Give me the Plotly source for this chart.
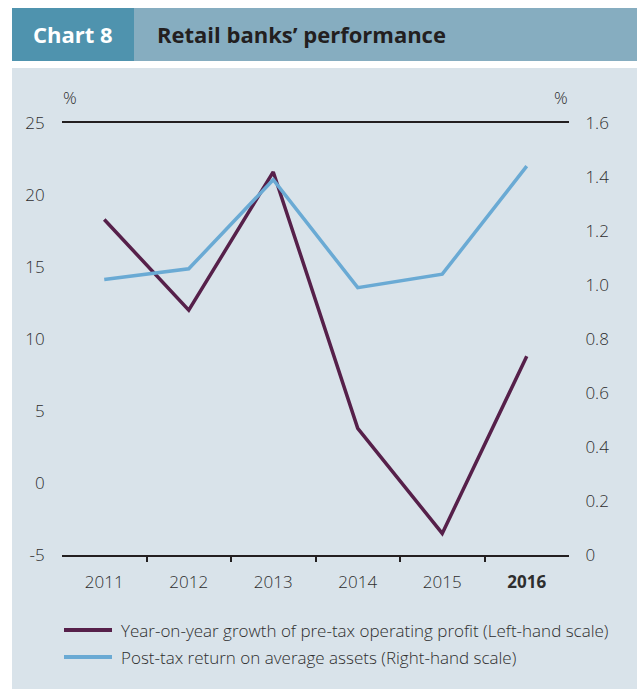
import plotly.graph_objects as go

years = ["2011", "2012", "2013", "2014", "2015", "2016"]
year_labels = ["2011", "2012", "2013", "2014", "2015", "<b>2016</b>"]
profit_growth = [18.3, 12.0, 21.6, 3.8, -3.5, 8.8]
roa = [1.02, 1.06, 1.39, 0.99, 1.04, 1.44]
series_names = ["Year-on-year growth of pre-tax operating profit (Left-hand scale)",
                "Post-tax return on average assets (Right-hand scale)"]
series_colors = ["#56204a", "#6aaad4"]

left_ticks = [-5, 0, 5, 10, 15, 20, 25]
left_text = ["-5", "0", "5", "10", "15", "20", "25"]
right_ticks = [0, 0.2, 0.4, 0.6, 0.8, 1.0, 1.2, 1.4, 1.6]
right_text = ["0", "0.2", "0.4", "0.6", "0.8", "1.0", "1.2", "1.4", "1.6"]

W, H = 637, 689
L, R, T, B = 62, 569, 123, 555
FONT = "Open Sans"
TXT = "#2e2e2e"
TICKFONT = dict(family=FONT, size=17, color=TXT, weight=300)


def px(x):
    return (x - L) / (R - L)


def py(y):
    return (B - y) / (B - T)


xi = list(range(len(years)))

fig = go.Figure()
fig.add_trace(go.Scatter(
    x=xi, y=profit_growth, mode="lines", name=series_names[0],
    line=dict(color=series_colors[0], width=3.5), yaxis="y", xaxis="x", showlegend=False))
fig.add_trace(go.Scatter(
    x=xi, y=roa, mode="lines", name=series_names[1],
    line=dict(color=series_colors[1], width=3.5), yaxis="y2", xaxis="x", showlegend=False))

shapes = [
    dict(type="rect", xref="paper", yref="paper", x0=px(12), x1=px(637), y0=py(68), y1=py(689),
         fillcolor="#d9e3ea", line=dict(width=0), layer="below"),
    dict(type="rect", xref="paper", yref="paper", x0=px(12), x1=px(134), y0=py(8), y1=py(61),
         fillcolor="#4f93ae", line=dict(width=0), layer="below"),
    dict(type="rect", xref="paper", yref="paper", x0=px(134), x1=px(637), y0=py(8), y1=py(61),
         fillcolor="#86adc0", line=dict(width=0), layer="below"),
]

annotations = [
    dict(text="<b>Chart 8</b>", xref="paper", yref="paper", x=px(73), y=py(34), showarrow=False,
         font=dict(family=FONT, size=22, color="white"), xanchor="center", yanchor="middle"),
    dict(text="<b>Retail banks’ performance</b>", xref="paper", yref="paper", x=px(155), y=py(34),
         showarrow=False, font=dict(family=FONT, size=22, color="#231f20"), xanchor="left", yanchor="middle"),
    dict(text="%", xref="paper", yref="paper", x=px(70), y=py(97), showarrow=False,
         font=TICKFONT, xanchor="center", yanchor="middle"),
    dict(text="%", xref="paper", yref="paper", x=px(561), y=py(97), showarrow=False,
         font=TICKFONT, xanchor="center", yanchor="middle"),
]

# manual legend
for i, (nm, col) in enumerate(zip(series_names, series_colors)):
    yy = 630 + 27 * i
    shapes.append(dict(type="line", xref="paper", yref="paper", x0=px(64), x1=px(112), y0=py(yy), y1=py(yy),
                       line=dict(color=col, width=4)))
    annotations.append(dict(text=nm, xref="paper", yref="paper", x=px(119), y=py(yy), showarrow=False,
                            xanchor="left", yanchor="middle", font=TICKFONT))

fig.update_layout(
    width=W, height=H,
    margin=dict(l=L, r=W - R, t=T, b=H - B),
    paper_bgcolor="white", plot_bgcolor="rgba(0,0,0,0)",
    font=dict(family=FONT, size=16, color=TXT),
    shapes=shapes, annotations=annotations,
    showlegend=False,
    xaxis=dict(range=[-0.5, 5.5], tickvals=xi, ticktext=year_labels, showgrid=False, zeroline=False,
               showline=True, mirror=True, linecolor="#231f20", linewidth=2, ticks="outside",
               ticklen=11, tickcolor="rgba(0,0,0,0)", tickfont=TICKFONT),
    xaxis2=dict(range=[-0.5, 5.5], overlaying="x", side="bottom", tickvals=[0.5, 1.5, 2.5, 3.5, 4.5],
                ticktext=["", "", "", "", ""], ticks="outside", ticklen=6, tickwidth=2, tickcolor="#231f20",
                showgrid=False, zeroline=False, showline=False),
    yaxis=dict(range=[-5, 25], tickvals=left_ticks, ticktext=left_text, showgrid=False, zeroline=False,
               showline=False, ticks="outside", ticklen=13, tickcolor="rgba(0,0,0,0)",
               tickfont=TICKFONT),
    yaxis2=dict(range=[0, 1.6], overlaying="y", side="right", tickvals=right_ticks, ticktext=right_text,
                showgrid=False, zeroline=False, showline=False, ticks="outside", ticklen=12,
                tickcolor="rgba(0,0,0,0)", tickfont=TICKFONT),
)

fig.add_trace(go.Scatter(x=[0], y=[0], xaxis="x2", yaxis="y", mode="markers",
                         marker=dict(opacity=0), showlegend=False, hoverinfo="skip"))

fig.write_html("out.html")
